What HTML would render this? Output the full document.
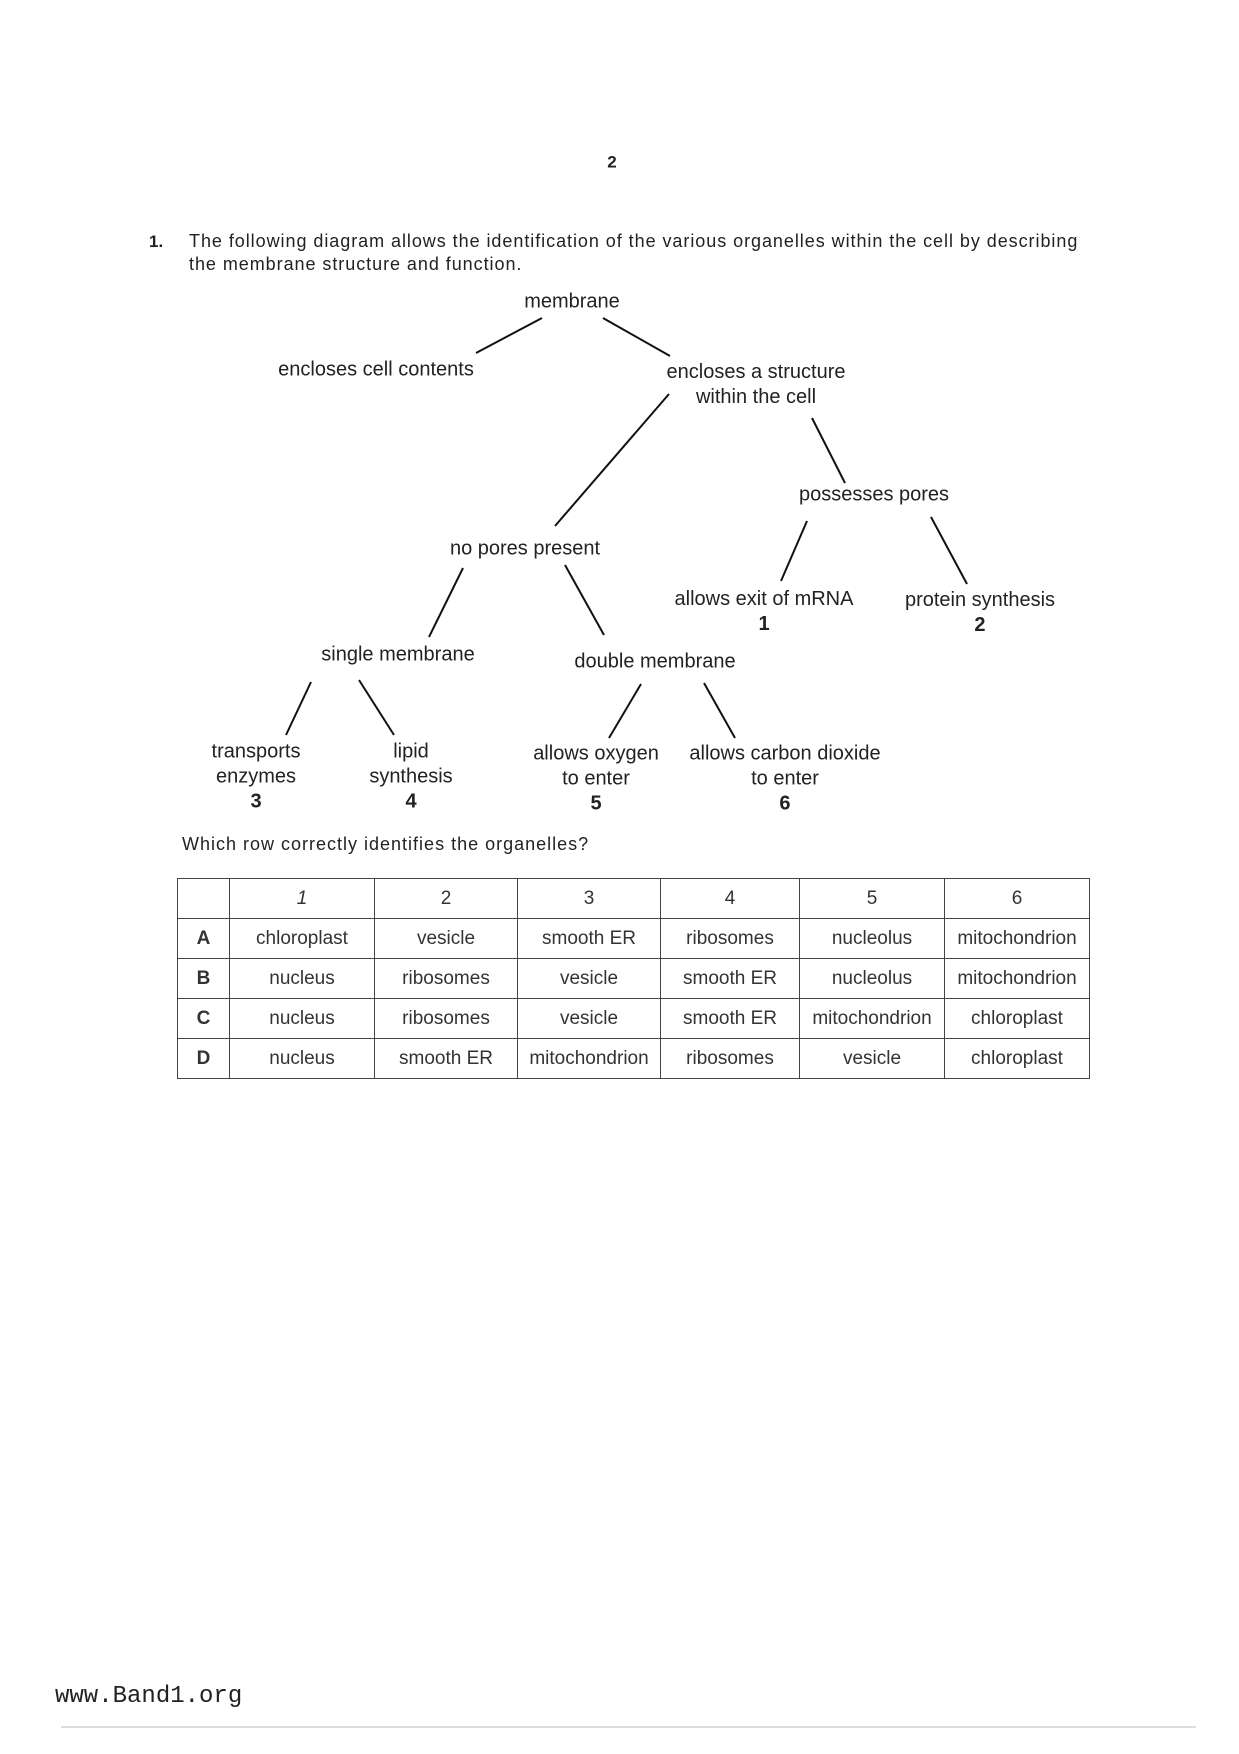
<!DOCTYPE html>
<html><head><meta charset="utf-8"><style>
html,body{margin:0;padding:0;background:#fff;}
body{width:1239px;height:1754px;position:relative;overflow:hidden;font-family:"Liberation Sans",sans-serif;color:#222;}
.t{position:absolute;white-space:nowrap;transform:translate(-50%,-50%);font-size:20px;text-align:center;line-height:25px;}
.l{position:absolute;white-space:nowrap;font-size:17px;}
table{position:absolute;left:177px;top:878px;border-collapse:collapse;font-size:19px;}
td{border:1.5px solid #444;text-align:center;padding:0;height:39px;color:#333;}
</style></head><body>
<div class="t" style="left:612px;top:162px;font-size:17px;font-weight:bold">2</div>
<div class="l" style="left:149px;top:232px;font-weight:bold">1.</div>
<div class="l" style="left:189px;top:231px;font-size:18px;letter-spacing:0.95px">The following diagram allows the identification of the various organelles within the cell by describing</div>
<div class="l" style="left:189px;top:254px;font-size:18px;letter-spacing:0.95px">the membrane structure and function.</div>

<svg width="1239" height="1754" style="position:absolute;left:0;top:0" stroke="#111" stroke-width="2">
<line x1="542" y1="318" x2="476" y2="353"/><line x1="603" y1="318" x2="670" y2="356"/>
<line x1="669" y1="394" x2="555" y2="526"/><line x1="812" y1="418" x2="845" y2="483"/>
<line x1="807" y1="521" x2="781" y2="581"/><line x1="931" y1="517" x2="967" y2="584"/>
<line x1="463" y1="568" x2="429" y2="637"/><line x1="565" y1="565" x2="604" y2="635"/>
<line x1="311" y1="682" x2="286" y2="735"/><line x1="359" y1="680" x2="394" y2="735"/>
<line x1="641" y1="684" x2="609" y2="738"/><line x1="704" y1="683" x2="735" y2="738"/>
<line x1="61" y1="1727" x2="1196" y2="1727" stroke="#bbb" stroke-width="1"/>
</svg>

<div class="t" style="left:572px;top:302px">membrane</div>
<div class="t" style="left:376px;top:370px">encloses cell contents</div>
<div class="t" style="left:756px;top:385px">encloses a structure<br>within the cell</div>
<div class="t" style="left:874px;top:495px">possesses pores</div>
<div class="t" style="left:525px;top:549px">no pores present</div>
<div class="t" style="left:764px;top:612px">allows exit of mRNA<br><b>1</b></div>
<div class="t" style="left:980px;top:613px">protein synthesis<br><b>2</b></div>
<div class="t" style="left:398px;top:655px">single membrane</div>
<div class="t" style="left:655px;top:662px">double membrane</div>
<div class="t" style="left:256px;top:777px">transports<br>enzymes<br><b>3</b></div>
<div class="t" style="left:411px;top:777px">lipid<br>synthesis<br><b>4</b></div>
<div class="t" style="left:596px;top:779px">allows oxygen<br>to enter<br><b>5</b></div>
<div class="t" style="left:785px;top:779px">allows carbon dioxide<br>to enter<br><b>6</b></div>

<div class="l" style="left:182px;top:834px;font-size:18px;letter-spacing:1px">Which row correctly identifies the organelles?</div>

<table>
<tr><td style="width:51px"></td><td style="width:144px"><i>1</i></td><td style="width:142px">2</td><td style="width:142px">3</td><td style="width:138px">4</td><td style="width:144px">5</td><td style="width:144px">6</td></tr>
<tr><td><b>A</b></td><td>chloroplast</td><td>vesicle</td><td>smooth ER</td><td>ribosomes</td><td>nucleolus</td><td>mitochondrion</td></tr>
<tr><td><b>B</b></td><td>nucleus</td><td>ribosomes</td><td>vesicle</td><td>smooth ER</td><td>nucleolus</td><td>mitochondrion</td></tr>
<tr><td><b>C</b></td><td>nucleus</td><td>ribosomes</td><td>vesicle</td><td>smooth ER</td><td>mitochondrion</td><td>chloroplast</td></tr>
<tr><td><b>D</b></td><td>nucleus</td><td>smooth ER</td><td>mitochondrion</td><td>ribosomes</td><td>vesicle</td><td>chloroplast</td></tr>
</table>

<div class="l" style="left:55px;top:1683px;font-family:'Liberation Mono',monospace;font-size:24px">www.Band1.org</div>
</body></html>
